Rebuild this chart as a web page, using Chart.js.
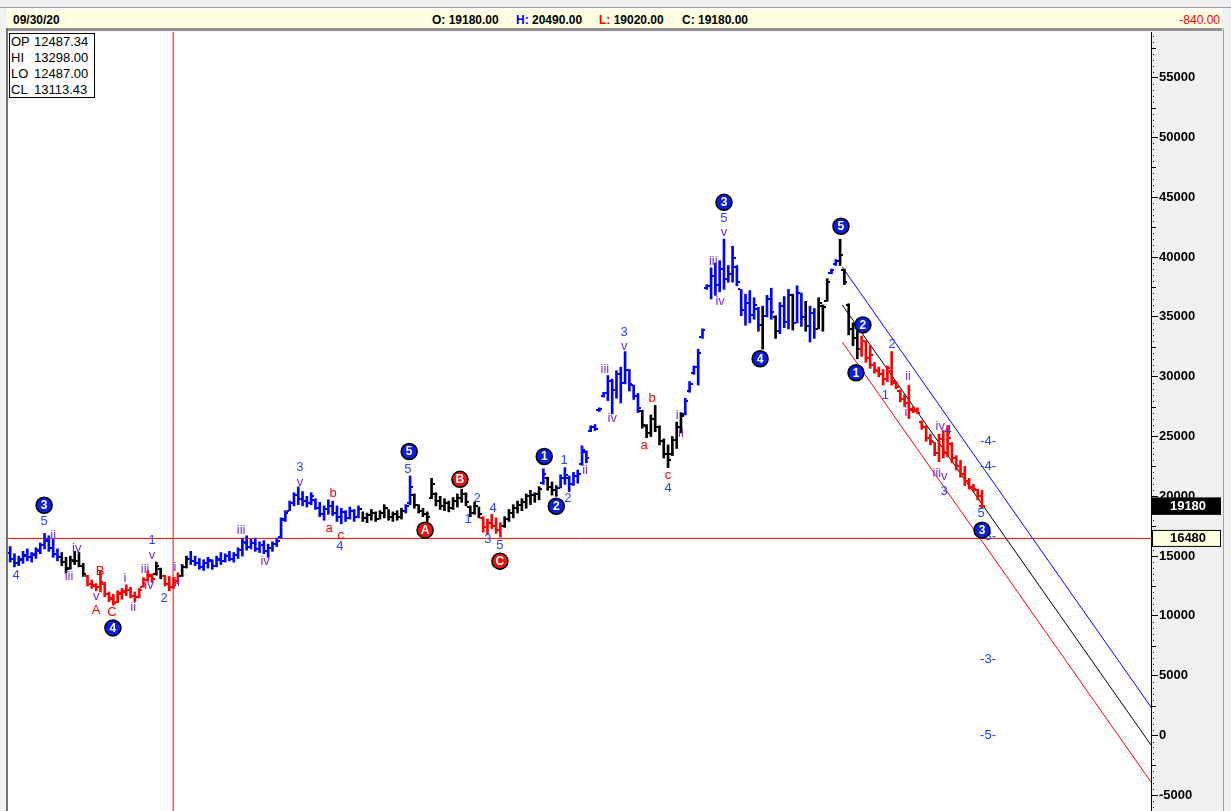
<!DOCTYPE html>
<html>
<head>
<meta charset="utf-8">
<script src="https://cdn.jsdelivr.net/npm/chart.js@4.4.0/dist/chart.umd.min.js"></script>
<style>
  body { margin: 0; width: 1231px; height: 811px; overflow: hidden; background: #f0f0f0; position: relative; font-family: "Liberation Sans", Arial, sans-serif; }
  .abs { position: absolute; }
  #hdr { left: 7px; top: 8px; width: 1215px; height: 18px; background: #ffffe1; border-top: 2px solid #ffffff; font-size: 12px; font-weight: bold; }
  #hdr span { position: absolute; top: 3px; line-height: 14px; white-space: pre; }
  #info { left: 9px; top: 33px; width: 84px; height: 63px; background: #fff; border: 1px solid #000; font-size: 13px; line-height: 16px; z-index: 5; }
  #info div { padding-left: 1px; white-space: pre; }
  #info b { font-weight: normal; display: inline-block; width: 23px; }
  #wrap { left: 8px; top: 32px; width: 1214px; height: 779px; }
</style>
</head>
<body>
<div class="abs" style="left:0;top:7px;width:1231px;height:1px;background:#a0a0a0"></div>
<div class="abs" id="hdr">
  <span style="left:6px">09/30/20</span>
  <span style="left:425px">O: 19180.00</span>
  <span style="left:509px"><span style="position:static;color:#0000ff">H:</span> 20490.00</span>
  <span style="left:592px"><span style="position:static;color:#ff0000">L:</span> 19020.00</span>
  <span style="left:675px">C: 19180.00</span>
  <span style="right:2px;color:#ff0000;font-weight:normal">-840.00</span>
</div>
<div class="abs" style="left:7px;top:28px;width:1215px;height:3px;background:#909090"></div>
<div class="abs" style="left:6px;top:28px;width:2px;height:783px;background:#707070"></div>
<div class="abs" style="left:1223px;top:28px;width:1px;height:783px;background:#a0a0a0"></div>
<div class="abs" id="info">
  <div><b>OP</b>12487.34</div>
  <div><b>HI</b>13298.00</div>
  <div><b>LO</b>12487.00</div>
  <div><b>CL</b>13113.43</div>
</div>
<div class="abs" id="wrap"><canvas id="myChart"></canvas></div>

<script>
// weekly bars, index 0 = first bar on the left
const highs = [
  15800,15200,15000,15400,15600,15300,15700,16100,16900,16700,
  16400,15600,15300,14900,15000,15400,15300,14400,13400,13000,
  12700,13800,12800,12000,11800,12100,12300,12600,12400,12000,
  12300,13200,13800,13500,14500,14000,13400,13300,13200,13600,
  14300,15000,15400,15000,14800,14700,14900,14700,15000,15300,
  15200,15400,15300,15700,16500,16700,16400,16500,16200,16300,
  16000,16200,16500,18200,18800,19600,20300,20800,20400,20000,
  20300,19800,19500,19200,19700,19600,19200,19000,18800,19100,
  18900,19200,18700,18600,18900,18700,18800,19300,18900,18700,
  18800,19000,19300,21700,20200,19300,19000,18700,21500,20300,
  20000,19800,19600,19900,20200,20600,20300,19200,19500,19100,
  18300,18100,18500,18200,17800,18300,18900,19300,19600,19800,
  20200,20500,20300,20800,22300,21600,21200,20900,21800,22400,
  21700,22000,22200,24200,23800,25900,26000,27400,28700,30100,
  29800,30500,30800,32100,30600,29300,28600,27200,26000,26800,
  27600,25900,24800,24300,25000,26200,27000,28200,29600,30900,
  32300,34000,37700,39100,39500,39700,41500,39300,40900,39300,
  37300,36900,37200,36600,35800,35900,36800,37400,35100,36200,
  36700,37300,36900,37600,37000,36300,35900,35700,36600,36000,
  38200,39000,39800,41500,39000,36100,34500,33800,33400,33000,
  32600,31200,30800,30600,30900,32100,29600,28900,28500,29300,
  27500,27400,26300,25900,25200,24500,25200,25500,25900,24500,
  23400,23000,22500,21500,21000,20600,20490
];
const lows = [
  14500,14100,14200,14400,14600,14500,14800,15200,15600,15400,
  14900,14600,14200,13600,13900,14300,14100,13300,12500,12300,
  12100,12000,11600,11200,10900,11100,11400,11700,11500,11200,
  11500,12400,12900,12800,13400,13100,12500,12100,12300,12700,
  13300,14000,14300,14200,13900,13800,14000,13900,14100,14300,
  14500,14600,14500,14800,15000,15500,15600,15400,15300,15200,
  14900,15400,15800,16500,17900,18800,19200,19300,19200,19100,
  19300,18900,18300,18000,18500,18400,17900,17700,17900,18100,
  17900,18200,17900,17800,18000,17900,18100,18200,18000,17900,
  18000,18100,18600,19300,19000,18600,18300,17900,19800,19200,
  18900,18800,18700,18900,19100,19500,19200,18300,18500,18200,
  17000,16800,17300,16900,16600,17400,17900,18200,18600,18800,
  19000,19300,19500,19700,21000,20500,20100,20000,20700,21000,
  20400,20900,21100,22600,22800,25400,25500,27100,28300,28000,
  26900,28200,27800,29400,28800,28100,27000,25700,24900,25000,
  25400,24300,23200,22400,23400,24000,25300,26800,28700,30200,
  29300,33200,37300,36500,36800,37100,37300,37900,37900,37600,
  35100,34300,34500,34800,33800,32300,35000,34800,33200,33600,
  34100,34000,33900,34500,34200,33800,32900,33200,34000,33800,
  36300,38600,39300,39300,37700,33500,32600,31500,31700,31200,
  30700,30300,30000,29300,29600,29300,29000,27900,27500,26500,
  27000,26900,25600,24600,24300,23400,22900,23200,23300,22800,
  22200,21600,20900,20600,20400,19700,19020
];
const opens = [
  15300,14800,14400,14700,15000,14900,15100,15400,15900,16300,
  15700,15200,14900,14500,14000,14600,14600,14200,13300,12700,
  12500,12400,12700,11800,11400,11200,11800,12000,12200,11700,
  11600,12400,13000,13300,13500,13900,13300,12700,12400,12900,
  13300,14100,14800,14600,14400,14100,14400,14600,14200,14700,
  14600,15000,14800,15100,15500,16100,15800,16100,15600,15900,
  15400,15700,16000,16600,18100,18800,19400,20100,19800,19600,
  19400,19700,19000,18500,18900,19200,18600,18300,18700,18200,
  18800,18300,18900,18200,18400,18600,18100,18600,19000,18300,
  18500,18300,18800,19400,20100,19300,18800,18500,19900,20200,
  19600,19200,19400,19000,19600,19900,20200,19100,18600,19200,
  18200,17400,17800,17500,17200,17500,18100,18600,19000,19300,
  19500,20000,20100,20200,21100,21500,20800,20500,20700,21500,
  21500,21000,21700,22700,23700,25500,25800,27200,28400,28600,
  29600,28900,30200,29500,30600,29300,28400,27100,25900,25300,
  26500,25800,24600,23500,23500,24700,25800,26900,28800,30300,
  30800,33300,37400,37600,38400,37700,39000,38200,38600,39200,
  37300,35600,36200,35200,35700,34300,35100,36500,35000,33800,
  35900,34600,36800,34500,37000,35000,34200,35300,34000,35900,
  36300,38700,39400,39700,38900,36000,34000,33200,32300,33000,
  31600,31000,30500,30200,29800,30500,29500,28800,28100,27800,
  27300,27200,26200,25800,24900,24500,23600,24800,23600,24400,
  23200,22500,21900,21300,20800,20500,19180
];
const closes = [
  14800,14400,14800,15100,14900,15200,15500,15900,16400,15700,
  15200,14900,14500,13900,14700,14600,14200,13500,12700,12600,
  12400,12800,11800,11500,11100,11900,12100,12200,11700,11600,
  12200,13000,13400,13100,14200,13300,12700,12400,12900,13300,
  14100,14800,14600,14400,14100,14400,14700,14200,14800,14600,
  15000,14800,15100,15500,16200,15800,16100,15600,15900,15400,
  15700,16000,16300,18000,18600,19400,20100,19800,19600,19400,
  20000,19000,18500,18900,19200,18600,18300,18700,18200,18800,
  18300,18900,18200,18400,18600,18100,18600,19000,18300,18500,
  18300,18800,19200,20800,19300,18800,18500,18300,21000,19600,
  19200,19400,19000,19600,19900,20200,19500,18600,19200,18500,
  17400,17800,17500,17200,17500,18100,18600,19000,19300,19500,
  20000,20100,20200,20600,21900,20800,20500,20700,21500,21800,
  21000,21700,21900,23900,23200,25800,25600,27300,28600,29600,
  28900,30200,29500,30600,29400,28400,27400,26000,25300,26500,
  25800,24600,23500,23000,24700,25800,26700,28000,29400,30800,
  32000,33900,37600,38400,37700,39000,38200,38600,39900,37900,
  35600,36200,35200,36000,34300,35100,36500,35400,33800,35900,
  34600,36800,34500,37000,35000,34200,35300,34000,36200,35800,
  37900,38900,39700,40200,37900,34000,33200,32300,33000,31600,
  31800,30600,30200,29800,30700,29600,29100,28100,27800,27200,
  27100,27000,25800,24900,24600,23600,24800,23600,24900,23200,
  22500,21900,21300,20800,20600,20020,19180
];
// wave colour of each bar: b = blue, k = black, r = red
const barColor = [
  'b','b','b','b','b','b','b','b','b','b',
  'b','b','k','k','k','k','k','k','r','r',
  'r','r','r','r','r','r','r','r','r','r',
  'r','r','r','r','k','k','r','r','r','r',
  'k','k','b','b','b','b','b','b','b','b',
  'b','b','b','b','b','b','b','b','b','b',
  'b','b','b','b','b','b','b','b','b','b',
  'b','b','b','b','b','b','b','b','b','b',
  'b','b','k','k','k','k','k','k','k','k',
  'k','k','b','b','k','k','k','k','k','k',
  'k','k','k','k','k','k','k','k','k','k',
  'r','r','r','r','r','k','k','k','k','k',
  'k','k','k','k','b','k','k','k','b','b',
  'b','b','b','b','b','b','b','b','b','b',
  'b','b','b','b','b','b','b','k','k','k',
  'k','k','k','k','k','k','k','b','b','b',
  'b','b','b','b','b','b','b','b','b','b',
  'b','b','b','b','b','k','b','b','k','b',
  'b','b','k','b','b','k','b','b','k','k',
  'k','b','b','k','k','k','k','k','r','r',
  'r','r','r','r','r','r','r','r','r','r',
  'r','r','r','r','r','r','r','r','r','r',
  'r','r','r','r','r','r','r'
];

// price axis labels
const priceTicks = [-5000, 0, 5000, 10000, 15000, 20000, 25000, 30000, 35000, 40000, 45000, 50000, 55000];

// lines: [barIndex, price]
const channelBlue = [[193.5, 39170], [265.3, 2380]];
const channelBlack = [[193.5, 36000], [265.3, -790]];
const channelRed = [[193.5, 32900], [265.3, -3890]];
const levelLine = 16480;
const cursorBar = 37.9;
const lastClose = 19180;

// wave labels: [barIndex, price, text, kind]
const waveLabels = [
  [1.4, 13420, '4', 'n'], [7.9, 17920, '5', 'n'], [10.0, 16750, 'ii', 'r'],
  [13.7, 13330, 'iii', 'r'], [15.5, 15670, 'iv', 'r'], [20.0, 11670, 'v', 'r'],
  [20.0, 10500, 'A', 'e'], [20.9, 13750, 'B', 'e'], [23.7, 10330, 'C', 'e'],
  [26.7, 13170, 'i', 'r'], [28.6, 10670, 'ii', 'r'], [31.4, 13920, 'iii', 'r'],
  [32.3, 12580, 'iv', 'r'], [33.0, 15080, 'v', 'r'], [33.0, 16330, '1', 'n'],
  [35.8, 11500, '2', 'n'], [38.3, 14080, 'i', 'r'], [38.8, 12830, 'ii', 'r'],
  [53.7, 17170, 'iii', 'r'], [59.3, 14580, 'iv', 'r'],
  [67.4, 22420, '3', 'n'], [67.4, 21170, 'v', 'r'],
  [74.2, 17330, 'a', 'e'], [75.1, 20250, 'b', 'e'], [76.9, 16750, 'c', 'e'], [76.7, 15830, '4', 'n'],
  [92.5, 22250, '5', 'n'],
  [106.5, 18080, '1', 'n'], [108.6, 19830, '2', 'n'], [111.1, 16420, '3', 'n'],
  [112.3, 19000, '4', 'n'], [113.9, 15920, '5', 'n'],
  [128.8, 23000, '1', 'n'], [129.7, 19830, '2', 'n'],
  [132.8, 23830, 'i', 'r'], [133.7, 22170, 'ii', 'r'],
  [138.3, 30580, 'iii', 'r'], [140.0, 26500, 'iv', 'r'],
  [142.8, 33670, '3', 'n'], [142.8, 32500, 'v', 'r'],
  [147.4, 24250, 'a', 'e'], [149.3, 28170, 'b', 'e'], [153.0, 21750, 'c', 'e'], [153.0, 20670, '4', 'n'],
  [155.1, 26750, 'i', 'r'], [156.0, 25250, 'ii', 'r'],
  [163.5, 39670, 'iii', 'r'], [165.1, 36330, 'iv', 'r'],
  [166.0, 43250, '5', 'n'], [166.0, 42080, 'v', 'r'],
  [203.5, 28420, '1', 'n'], [205.1, 32670, '2', 'n'],
  [208.3, 27000, 'i', 'r'], [208.8, 30000, 'ii', 'r'],
  [215.5, 21920, 'iii', 'r'], [216.3, 25830, 'iv', 'r'], [217.2, 21670, 'v', 'r'],
  [217.2, 20420, '3', 'n'], [218.1, 25500, '4', 'n'], [225.8, 18580, '5', 'n'],
  [227.4, 24580, '-4-', 't'], [227.4, 22500, '-4-', 't'], [227.4, 16670, '-3-', 't'],
  [227.4, 6330, '-3-', 't'], [227.4, 0, '-5-', 't']
];
// circled degree labels: [barIndex, price, text, colour]
const waveCircles = [
  [7.9, 19250, '3', 'b'], [23.9, 9000, '4', 'b'], [92.8, 23750, '5', 'b'],
  [96.5, 17170, 'A', 'r'], [104.6, 21420, 'B', 'r'], [113.9, 14580, 'C', 'r'],
  [124.2, 23330, '1', 'b'], [127.0, 19170, '2', 'b'], [166.0, 44580, '3', 'b'],
  [174.4, 31500, '4', 'b'], [193.2, 42580, '5', 'b'], [196.7, 30330, '1', 'b'],
  [198.3, 34330, '2', 'b'], [226.0, 17170, '3', 'b']
];

const palette = { b: '#0000ff', k: '#000000', r: '#ff0000' };
const labelColor = { n: '#2a45ff', r: '#7a2ae0', e: '#ff0000', t: '#1f3cff' };
const FONT = '"Liberation Sans", Arial, sans-serif';
const X_MIN = -0.5, X_MAX = 265.3, Y_MIN = -6310, Y_MAX = 58820;

const pts = arr => arr.map(p => ({ x: p[0], y: p[1] }));

const painter = {
  id: 'painter',
  beforeDraw(chart) {
    const { ctx, chartArea: a, width, height } = chart;
    ctx.save();
    ctx.fillStyle = '#f0f0f0';
    ctx.fillRect(0, 0, width, height);
    ctx.fillStyle = '#ffffff';
    ctx.fillRect(a.left, a.top, a.right - a.left, a.bottom - a.top);
    ctx.restore();
  },
  afterDatasetsDraw(chart) {
    const { ctx } = chart;
    const xs = chart.scales.x, ys = chart.scales.y;
    ctx.save();
    // open / close ticks
    for (let i = 0; i < highs.length; i++) {
      const px = Math.round(xs.getPixelForValue(i));
      ctx.fillStyle = palette[barColor[i]];
      ctx.fillRect(px - 3, Math.round(ys.getPixelForValue(opens[i])) - 1, 2, 2);
      ctx.fillRect(px + 1, Math.round(ys.getPixelForValue(closes[i])) - 1, 2, 2);
    }
    // text labels
    ctx.textAlign = 'center';
    ctx.textBaseline = 'middle';
    ctx.font = '13px ' + FONT;
    waveLabels.forEach(([i, v, t, k]) => {
      ctx.fillStyle = labelColor[k];
      ctx.fillText(t, xs.getPixelForValue(i), ys.getPixelForValue(v));
    });
    // circles
    waveCircles.forEach(([i, v, t, c]) => {
      const px = xs.getPixelForValue(i), py = ys.getPixelForValue(v);
      ctx.beginPath();
      ctx.arc(px, py, 8, 0, Math.PI * 2);
      ctx.fillStyle = c === 'b' ? '#0a1ee0' : '#f01010';
      ctx.fill();
      ctx.lineWidth = 1.5;
      ctx.strokeStyle = '#000';
      ctx.stroke();
      ctx.fillStyle = '#fff';
      ctx.font = 'bold 12px ' + FONT;
      ctx.fillText(t, px, py + 0.5);
    });
    ctx.restore();
  },
  afterDraw(chart) {
    const { ctx, chartArea: a } = chart;
    const ys = chart.scales.y;
    ctx.save();
    ctx.fillStyle = '#000';
    // minor axis marks
    for (let v = Math.ceil(Y_MIN / 500) * 500; v <= Y_MAX; v += 500) {
      if (v % 5000 === 0) continue;
      const py = Math.round(ys.getPixelForValue(v));
      if (v % 2500 === 0) ctx.fillRect(a.right + 1, py, 4, 1);
      else ctx.fillRect(a.right + 2, py, 1, 1);
    }
    // value tags
    const tag = (v, bg, fg) => {
      const py = ys.getPixelForValue(v);
      ctx.fillStyle = bg;
      ctx.fillRect(a.right + 1, py - 8.5, 69, 17);
      ctx.strokeStyle = '#000';
      ctx.lineWidth = 1;
      ctx.strokeRect(a.right + 1.5, py - 8, 68, 16);
      ctx.fillStyle = fg;
      ctx.font = 'bold 13px ' + FONT;
      ctx.textAlign = 'center';
      ctx.textBaseline = 'middle';
      ctx.fillText(String(v), a.right + 37, py + 0.5);
    };
    tag(lastClose, '#000000', '#ffffff');
    tag(levelLine, '#ffffe1', '#000000');
    ctx.restore();
  }
};

const ctx = document.getElementById('myChart');
new Chart(ctx, {
  type: 'bar',
  data: {
    datasets: [
      {
        label: 'bars',
        data: highs.map((h, i) => ({ x: i, y: [lows[i], h] })),
        backgroundColor: barColor.map(c => palette[c]),
        barThickness: 2,
        borderWidth: 0,
        grouped: false,
        order: 0
      },
      { type: 'line', data: pts(channelBlue), borderColor: '#0000ff', borderWidth: 1, pointRadius: 0, order: 1 },
      { type: 'line', data: pts(channelBlack), borderColor: '#000000', borderWidth: 1, pointRadius: 0, order: 1 },
      { type: 'line', data: pts(channelRed), borderColor: '#ff0000', borderWidth: 1, pointRadius: 0, order: 1 },
      { type: 'line', data: [{ x: X_MIN, y: levelLine }, { x: X_MAX, y: levelLine }], borderColor: '#ff0000', borderWidth: 1, pointRadius: 0, order: 1 },
      { type: 'line', data: [{ x: cursorBar, y: Y_MIN }, { x: cursorBar, y: Y_MAX }], borderColor: '#ff0000', borderWidth: 1, pointRadius: 0, order: 1 }
    ]
  },
  options: {
    responsive: true,
    maintainAspectRatio: false,
    animation: false,
    events: [],
    layout: { padding: 0 },
    plugins: { legend: { display: false }, tooltip: { enabled: false } },
    scales: {
      x: {
        type: 'linear',
        min: X_MIN,
        max: X_MAX,
        offset: false,
        display: false
      },
      y: {
        position: 'right',
        min: Y_MIN,
        max: Y_MAX,
        afterFit: s => { s.width = 71; s.paddingTop = 0; s.paddingBottom = 0; },
        afterBuildTicks: s => { s.ticks = priceTicks.map(v => ({ value: v })); },
        border: { display: true, color: '#000', width: 1 },
        grid: { drawOnChartArea: false, tickLength: 7, color: '#000' },
        ticks: {
          autoSkip: false,
          padding: 1,
          color: '#000',
          font: { family: 'Liberation Sans', size: 13, weight: 'bold' },
          callback: v => String(v)
        }
      }
    }
  },
  plugins: [painter]
});
</script>
</body>
</html>
